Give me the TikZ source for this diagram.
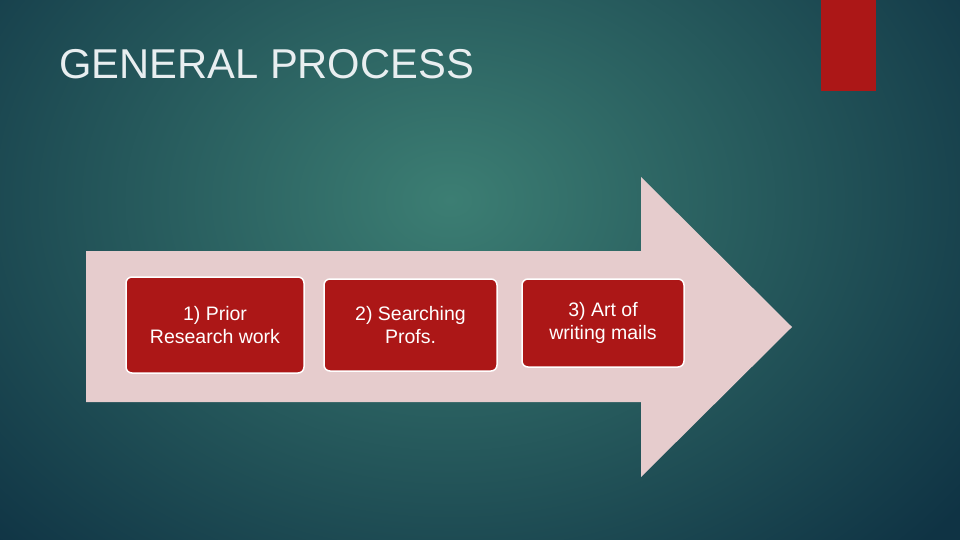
\documentclass[tikz,border=0pt]{standalone}
\usepackage{fontspec}
\setmainfont{Liberation Sans}
\definecolor{bgin}{HTML}{3C7E73}
\definecolor{bgout}{HTML}{0F3344}
\definecolor{redc}{HTML}{AC1717}
\definecolor{arrowc}{HTML}{E6CCCD}
\definecolor{titlec}{HTML}{E8EEF0}
\tikzset{stepbox/.style={draw=white,line width=1.5pt,fill=redc,rounded corners=6pt,text=white,font=\fontsize{19.5}{23.5}\selectfont,align=center,inner sep=0pt}}
\begin{document}
\begin{tikzpicture}[x=1pt,y=-1pt]
\useasboundingbox (0,0) rectangle (960,540);
\shade[inner color=bgin,outer color=bgout] (-200,-300) rectangle (1100,700);
\fill[redc] (821,0) rectangle (876,91);
\fill[arrowc] (86,251) -- (641,251) -- (641,177) -- (792,327) -- (641,477) -- (641,402) -- (86,402) -- cycle;
\node[anchor=base west,text=titlec,font=\fontsize{41.7}{46}\selectfont,inner sep=0pt] (title) at (59,79) {GENERAL PROCESS};
\node[stepbox,minimum width=178pt,minimum height=96pt] (s1) at (215,325) {1) Prior\\Research work};
\node[stepbox,minimum width=173pt,minimum height=92pt] (s2) at (410.5,325) {2) Searching\\Profs.};
\node[stepbox,minimum width=162pt,minimum height=88pt] (s3) at (603,323) {3) Art of\\writing mails};
\end{tikzpicture}
\end{document}
